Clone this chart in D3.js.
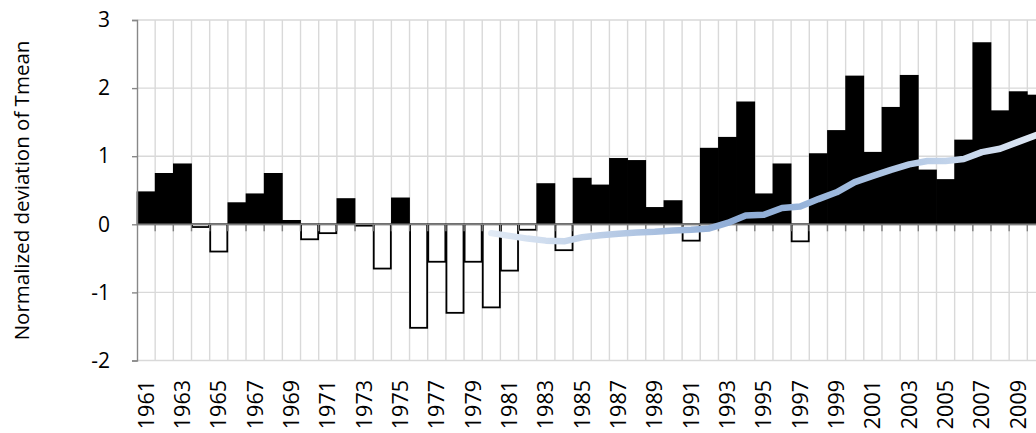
<!DOCTYPE html>
<html>
<head>
<meta charset="utf-8">
<script src="https://cdn.jsdelivr.net/npm/d3@7"></script>
<style>
  html, body { margin: 0; padding: 0; background: #fff; overflow: hidden; }
  svg { display: block; font-family: "Open Sans", sans-serif; }
</style>
</head>
<body>
<svg id="chart" width="1036" height="433"></svg>
<script>
const years = ["1961","1962","1963","1964","1965","1966","1967","1968","1969","1970",
  "1971","1972","1973","1974","1975","1976","1977","1978","1979","1980",
  "1981","1982","1983","1984","1985","1986","1987","1988","1989","1990",
  "1991","1992","1993","1994","1995","1996","1997","1998","1999","2000",
  "2001","2002","2003","2004","2005","2006","2007","2008","2009","2010"];

const deviation = [0.47, 0.74, 0.88, -0.04, -0.40, 0.31, 0.44, 0.74, 0.05, -0.22,
  -0.13, 0.37, -0.02, -0.65, 0.38, -1.52, -0.55, -1.30, -0.55, -1.22,
  -0.68, -0.08, 0.59, -0.38, 0.67, 0.57, 0.96, 0.93, 0.24, 0.34,
  -0.24, 1.11, 1.27, 1.79, 0.44, 0.88, -0.25, 1.03, 1.37, 2.17,
  1.05, 1.71, 2.18, 0.79, 0.65, 1.23, 2.66, 1.66, 1.94, 1.89];

const trendYears = ["1980","1981","1982","1983","1984","1985","1986","1987","1988","1989",
  "1990","1991","1992","1993","1994","1995","1996","1997","1998","1999",
  "2000","2001","2002","2003","2004","2005","2006","2007","2008","2009","2010"];
const trend = [-0.13, -0.17, -0.21, -0.24, -0.25, -0.19, -0.16, -0.14, -0.12, -0.11,
  -0.09, -0.08, -0.06, 0.02, 0.13, 0.14, 0.24, 0.26, 0.37, 0.47,
  0.62, 0.71, 0.80, 0.88, 0.93, 0.93, 0.96, 1.06, 1.11, 1.21, 1.31];

const yTicks = [-2, -1, 0, 1, 2, 3];
const yTitle = "Normalized deviation of Tmean";

const svg = d3.select("#chart");
const plotLeft = 137, plotTop = 20, plotBottom = 360.5, step = 18.17;
const plotRight = plotLeft + years.length * step;

const x = d3.scaleBand().domain(years).range([plotLeft, plotRight])
  .paddingInner(0.06).paddingOuter(0.03);
const y = d3.scaleLinear().domain([-2, 3]).range([plotBottom, plotTop]);

// gradient for trend line
const defs = svg.append("defs");
const grad = defs.append("linearGradient").attr("id", "tg")
  .attr("gradientUnits", "userSpaceOnUse")
  .attr("x1", x("1980")).attr("x2", x("2010") + 20).attr("y1", 0).attr("y2", 0);
grad.append("stop").attr("offset", "0%").attr("stop-color", "#e4ecf6");
grad.append("stop").attr("offset", "45%").attr("stop-color", "#8eacd6");
grad.append("stop").attr("offset", "62%").attr("stop-color", "#9cb8dd");
grad.append("stop").attr("offset", "100%").attr("stop-color", "#e2eaf5");

// category boundaries (from the band scale)
const bounds = years.map(d => x(d) + x.bandwidth() + x.step() * x.paddingInner() / 2);

// grid
svg.append("g").selectAll("line").data(bounds).join("line")
  .attr("x1", d => d).attr("x2", d => d).attr("y1", plotTop).attr("y2", plotBottom)
  .attr("stroke", "#d9d9d9").attr("stroke-width", 1.4);
svg.append("g").selectAll("line").data(yTicks).join("line")
  .attr("x1", plotLeft).attr("x2", 1036).attr("y1", d => y(d)).attr("y2", d => y(d))
  .attr("stroke", "#d9d9d9").attr("stroke-width", 1.4);

// bars
svg.append("g").selectAll("rect").data(years).join("rect")
  .attr("x", (d) => x(d))
  .attr("width", x.bandwidth())
  .attr("y", (d, i) => y(Math.max(0, deviation[i])))
  .attr("height", (d, i) => Math.abs(y(deviation[i]) - y(0)))
  .attr("fill", (d, i) => deviation[i] >= 0 ? "#000" : "#fff")
  .attr("stroke", "#000").attr("stroke-width", 1.8);

// y axis
const yAxis = svg.append("g").attr("transform", `translate(${plotLeft},0)`)
  .call(d3.axisLeft(y).tickValues(yTicks).tickSize(5).tickPadding(22).tickFormat(d => String(d)));
yAxis.select(".domain").attr("stroke", "#888").attr("stroke-width", 1.4);
yAxis.selectAll(".tick line").attr("stroke", "#888").attr("stroke-width", 1.4);
yAxis.selectAll(".tick text").attr("font-size", 21).attr("fill", "#000")
  .attr("font-family", "Open Sans, sans-serif");

// x axis at zero
const xAxis = svg.append("g").attr("transform", `translate(0,${y(0)})`);
xAxis.append("line").attr("x1", plotLeft).attr("x2", 1036).attr("y1", 0).attr("y2", 0)
  .attr("stroke", "#7f7f7f").attr("stroke-width", 1.6);
xAxis.selectAll("line.tk").data(bounds).join("line")
  .attr("class", "tk")
  .attr("x1", d => d).attr("x2", d => d).attr("y1", 0).attr("y2", 7)
  .attr("stroke", "#7f7f7f").attr("stroke-width", 1.4);

// year labels
svg.append("g").selectAll("text").data(years.filter((d, i) => i % 2 === 0)).join("text")
  .attr("transform", d => `translate(${x(d) + x.bandwidth() / 2 + 7.5},380) rotate(-90)`)
  .attr("text-anchor", "end")
  .attr("font-size", 21.5).attr("fill", "#000")
  .text(d => d);

// trend line
const line = d3.line()
  .x((d, i) => x(trendYears[i]) + x.bandwidth() / 2)
  .y(d => y(d));
svg.append("path").datum(trend)
  .attr("d", line)
  .attr("fill", "none").attr("stroke", "url(#tg)")
  .attr("stroke-width", 6.5).attr("stroke-linecap", "round").attr("stroke-linejoin", "round");

// y title
svg.append("text")
  .attr("transform", `translate(29,190.5) rotate(-90)`)
  .attr("text-anchor", "middle")
  .attr("font-size", 20.5).attr("fill", "#000")
  .text(yTitle);
</script>
</body>
</html>
